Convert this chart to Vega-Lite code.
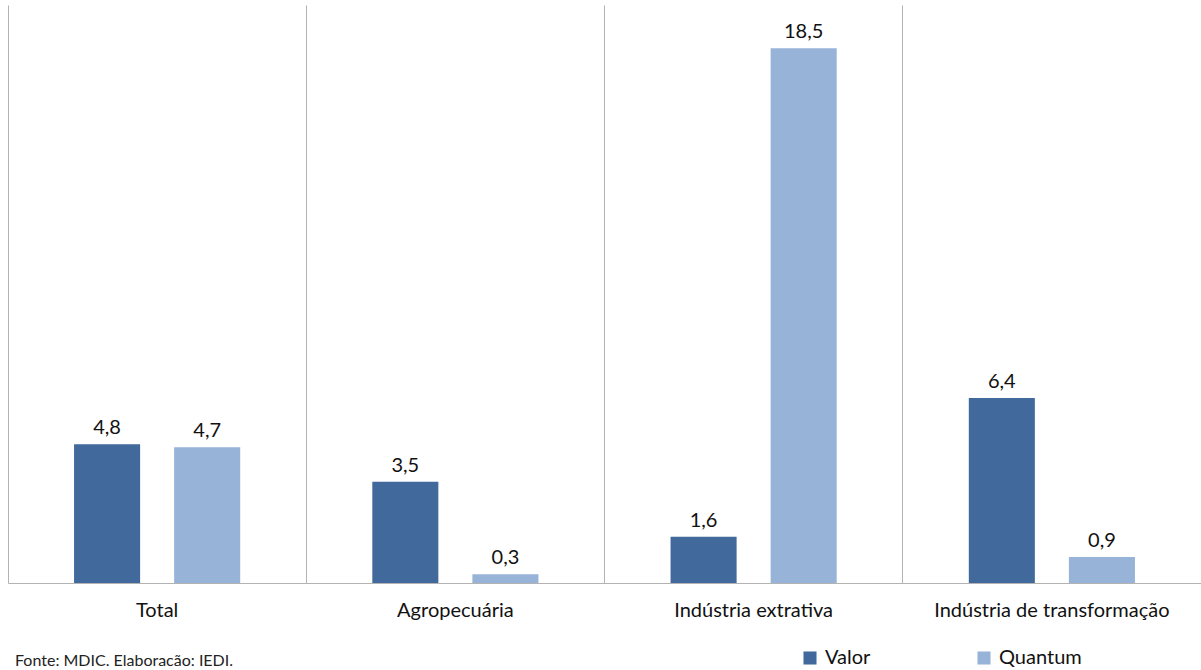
{
  "$schema": "https://vega.github.io/schema/vega-lite/v6.json",
  "autosize": {"type": "none"},
  "width": 1193,
  "height": 578,
  "padding": {"left": 8, "top": 5, "right": 0, "bottom": 87},
  "background": "white",
  "title": {
    "text": "Fonte: MDIC. Elaboracão: IEDI.",
    "orient": "bottom",
    "anchor": "start",
    "offset": -15,
    "dx": 7,
    "font": "Lato",
    "fontSize": 16,
    "fontWeight": "normal",
    "color": "#222222"
  },
  "data": {
    "values": [
      {"setor": "Total", "serie": "Valor", "valor": 4.8, "rotulo": "4,8"},
      {"setor": "Total", "serie": "Quantum", "valor": 4.7, "rotulo": "4,7"},
      {"setor": "Agropecuária", "serie": "Valor", "valor": 3.5, "rotulo": "3,5"},
      {"setor": "Agropecuária", "serie": "Quantum", "valor": 0.3, "rotulo": "0,3"},
      {"setor": "Indústria extrativa", "serie": "Valor", "valor": 1.6, "rotulo": "1,6"},
      {"setor": "Indústria extrativa", "serie": "Quantum", "valor": 18.5, "rotulo": "18,5"},
      {"setor": "Indústria de transformação", "serie": "Valor", "valor": 6.4, "rotulo": "6,4"},
      {"setor": "Indústria de transformação", "serie": "Quantum", "valor": 0.9, "rotulo": "0,9"}
    ]
  },
  "encoding": {
    "x": {
      "field": "setor",
      "type": "nominal",
      "sort": null,
      "scale": {"paddingInner": 0, "paddingOuter": 0},
      "axis": {
        "title": null,
        "labelAngle": 0,
        "ticks": false,
        "grid": true,
        "bandPosition": 0,
        "gridColor": "#b3b3b3",
        "gridWidth": 1,
        "domainColor": "#b3b3b3",
        "domainWidth": 1,
        "labelFont": "Lato",
        "labelFontSize": 20,
        "labelLimit": 400,
        "labelColor": "#111111",
        "labelPadding": 17
      }
    },
    "xOffset": {
      "field": "serie",
      "type": "nominal",
      "sort": ["Valor", "Quantum"],
      "scale": {"paddingInner": 0.34, "paddingOuter": 0.66}
    },
    "y": {
      "field": "valor",
      "type": "quantitative",
      "scale": {"domain": [0, 20], "nice": false},
      "axis": null
    }
  },
  "layer": [
    {
      "mark": {"type": "bar"},
      "encoding": {
        "color": {
          "field": "serie",
          "type": "nominal",
          "scale": {"domain": ["Valor", "Quantum"], "range": ["#41699C", "#97B3D8"]},
          "legend": {
            "title": null,
            "orient": "none",
            "direction": "horizontal",
            "legendX": 792,
            "legendY": 643,
            "symbolType": "square",
            "symbolSize": 170,
            "symbolStrokeWidth": 0,
            "labelFont": "Lato",
            "labelFontSize": 20,
            "labelColor": "#111111",
            "labelOffset": 5,
            "columnPadding": 103
          }
        }
      }
    },
    {
      "mark": {"type": "text", "baseline": "bottom", "dy": -6, "font": "Lato", "fontSize": 20, "color": "#111111"},
      "encoding": {
        "text": {"field": "rotulo", "type": "nominal"}
      }
    }
  ],
  "config": {
    "view": {"stroke": null}
  }
}
